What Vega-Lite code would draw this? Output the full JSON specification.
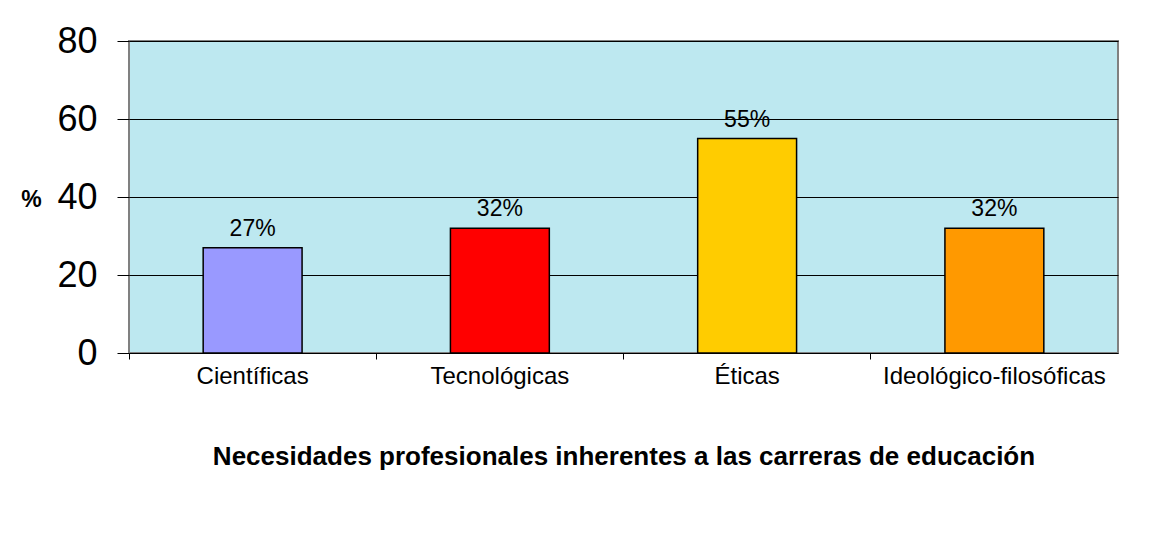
{
  "$schema": "https://vega.github.io/schema/vega-lite/v6.json",
  "autosize": {"type": "none"},
  "width": 989,
  "height": 312,
  "padding": {"left": 129, "top": 41, "right": 37, "bottom": 185},
  "background": "white",
  "config": {
    "font": "Liberation Sans",
    "view": {"fill": "#bde8f0", "stroke": "#808080", "strokeWidth": 2}
  },
  "data": {
    "values": [
      {"categoria": "Científicas", "valor": 27, "etiqueta": "27%"},
      {"categoria": "Tecnológicas", "valor": 32, "etiqueta": "32%"},
      {"categoria": "Éticas", "valor": 55, "etiqueta": "55%"},
      {"categoria": "Ideológico-filosóficas", "valor": 32, "etiqueta": "32%"}
    ]
  },
  "encoding": {
    "x": {
      "field": "categoria",
      "type": "nominal",
      "sort": null,
      "scale": {"paddingInner": 0, "paddingOuter": 0},
      "axis": {
        "title": "Necesidades profesionales inherentes a las carreras de educación",
        "titleFont": "Liberation Sans",
        "titleFontSize": 26,
        "titleFontWeight": "bold",
        "titleColor": "black",
        "titlePadding": 55,
        "labelAngle": 0,
        "labelFontSize": 24,
        "labelLimit": 0,
        "labelColor": "black",
        "labelPadding": 5,
        "tickColor": "black",
        "tickSize": 6,
        "bandPosition": 0,
        "domain": false,
        "grid": false
      }
    },
    "y": {
      "field": "valor",
      "type": "quantitative",
      "scale": {"domain": [0, 80]},
      "axis": {
        "values": [0, 20, 40, 60, 80],
        "title": "%",
        "titleAngle": 0,
        "titleFontSize": 23,
        "titleFontWeight": "bold",
        "titleColor": "black",
        "titleAlign": "center",
        "titleBaseline": "middle",
        "titleX": -98,
        "titleY": 158,
        "labelFontSize": 36,
        "labelColor": "black",
        "labelPadding": 20,
        "tickColor": "black",
        "tickSize": 12,
        "domain": false,
        "grid": true,
        "gridColor": "black",
        "gridWidth": 1,
        "gridOpacity": 1
      }
    }
  },
  "layer": [
    {
      "mark": {"type": "bar", "width": {"band": 0.4}, "stroke": "black", "strokeWidth": 1.5},
      "encoding": {
        "color": {
          "field": "categoria",
          "type": "nominal",
          "sort": null,
          "scale": {
            "domain": ["Científicas", "Tecnológicas", "Éticas", "Ideológico-filosóficas"],
            "range": ["#9999ff", "#ff0000", "#ffcc00", "#ff9900"]
          },
          "legend": null
        }
      }
    },
    {
      "mark": {"type": "text", "fontSize": 23, "color": "black", "baseline": "bottom", "dy": -7},
      "encoding": {"text": {"field": "etiqueta"}}
    }
  ]
}
